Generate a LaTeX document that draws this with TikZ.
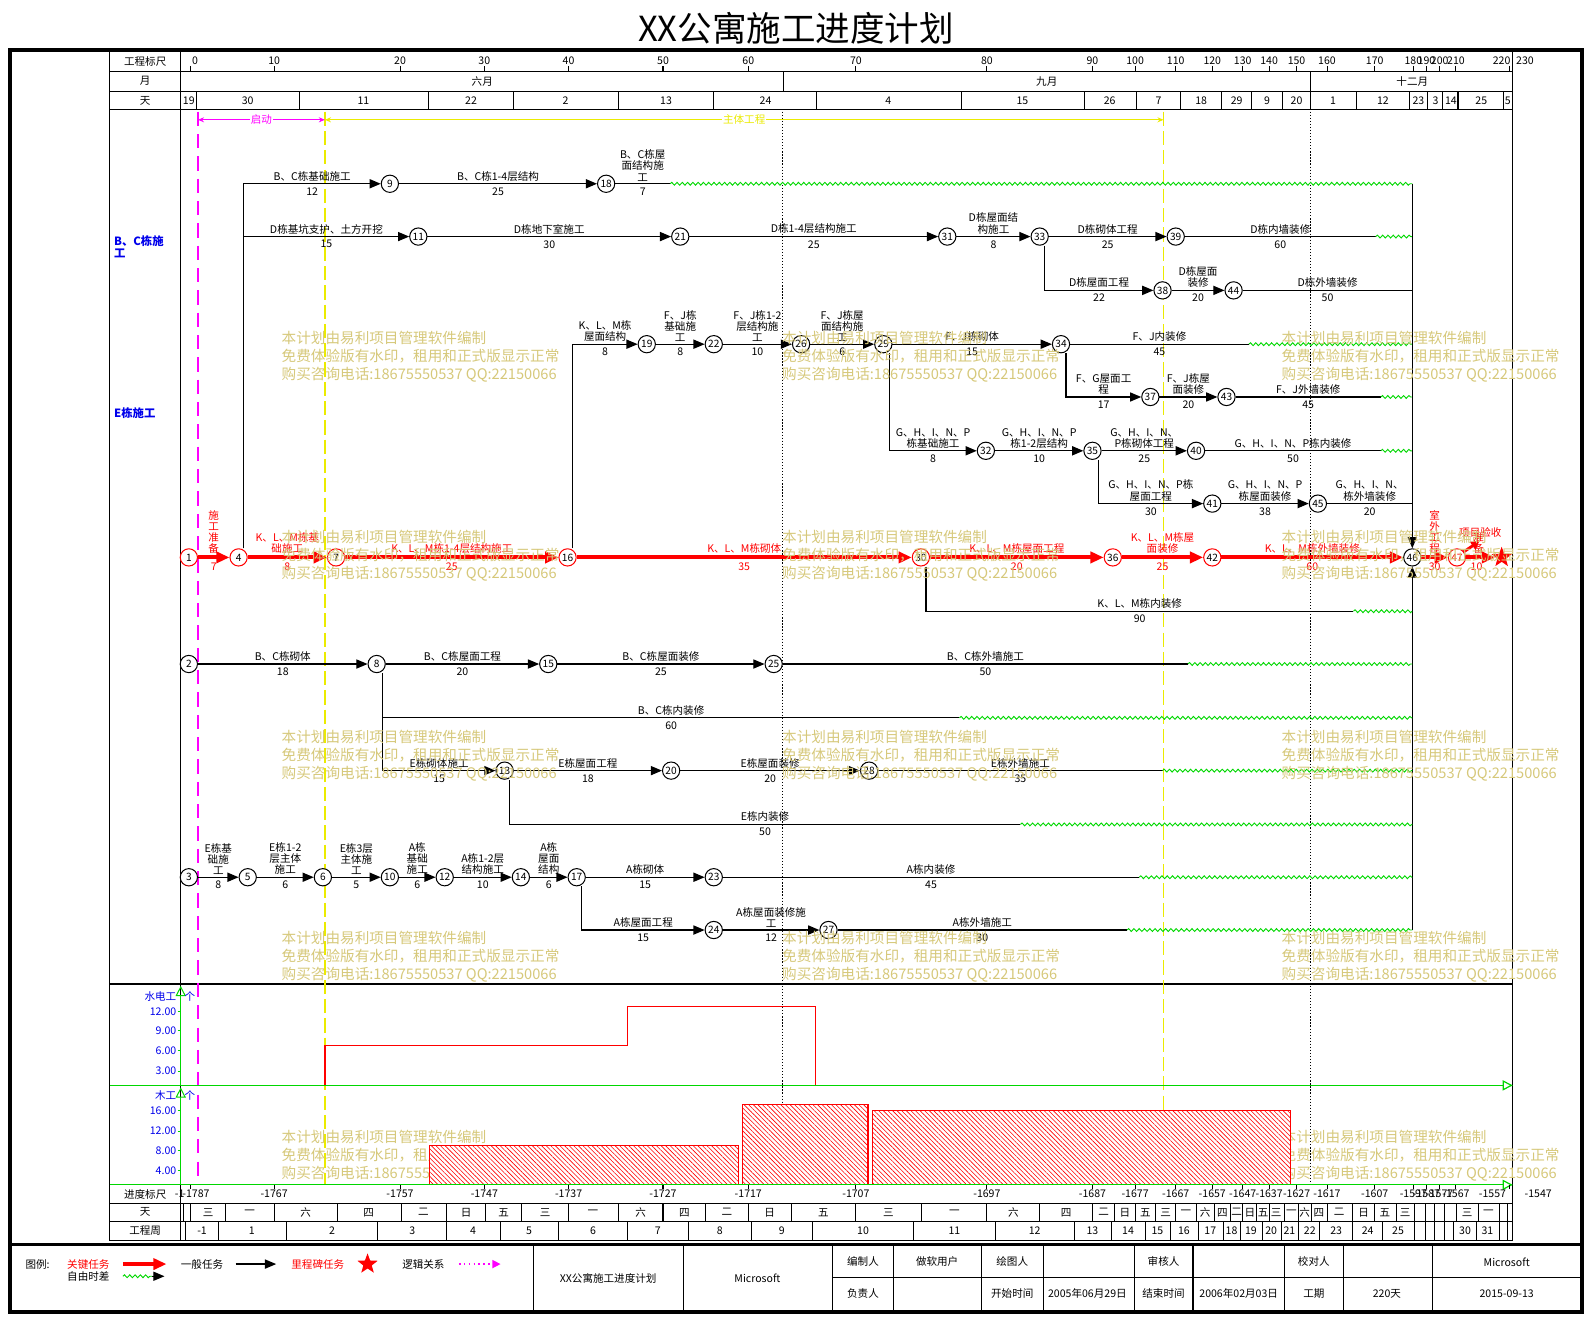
\documentclass[tikz,border=0pt]{standalone}
\usepackage{fontspec}
\setmainfont{Noto Sans CJK SC}
\usetikzlibrary{arrows.meta,decorations.pathmorphing,patterns.meta,shapes.geometric}
\definecolor{wm}{RGB}{214,200,122}
\definecolor{gr}{RGB}{0,215,0}
\definecolor{mg}{RGB}{255,0,255}
\definecolor{yl}{RGB}{235,235,0}
\definecolor{bl}{RGB}{0,0,235}
\newcommand\flab{\fontsize{5.2}{5.5}\selectfont}
\newcommand\fnum{\fontsize{5}{5.5}\selectfont}
\newcommand\fwm{\fontsize{7.2}{8.8}\selectfont}
\tikzset{
 nd/.style={circle,draw=black,line width=0.5pt,fill=white,minimum size=8.5pt,inner sep=0pt,font=\fnum},
 cn/.style={nd,draw=red},
 ln/.style={line width=0.6pt,-{Triangle[length=5.5pt,width=4.5pt]}},
 cl/.style={draw=red,line width=2pt,-{Triangle[length=6.5pt,width=5.5pt]}},
 pl/.style={line width=0.6pt},
 tl/.style={line width=0.5pt},
 wv/.style={draw=gr,line width=0.45pt,decorate,decoration={snake,amplitude=0.7pt,segment length=2.6pt}},
 la/.style={above=0.6pt,inner sep=0.4pt,font=\flab,align=center},
 lb/.style={below=1.2pt,inner sep=0.4pt,font=\flab},
 wmk/.style={anchor=north west,inner sep=0pt,text=wm,font=\fwm,align=left},
 hd/.style={inner sep=0pt,font=\flab},
 bar/.style={draw=red,line width=0.6pt,fill=white},
 hatch/.style={draw=red,line width=0.6pt,pattern={Lines[angle=-45,distance=1.6pt,line width=0.3pt]},pattern color=red},
}
\begin{document}
\begin{tikzpicture}[x=0.5pt,y=-0.5pt,font=\flab]
\useasboundingbox (0,0) rectangle (1568,1301);
\node[font=\fontsize{17}{20}\selectfont] (title) at (784,28) {XX公寓施工进度计划};
% frame and table
\draw[line width=1.8pt] (10,49) rectangle (1558,1292);
\draw[tl] (108,49) -- (108,1222) (178,49) -- (178,1222) (1490,49) -- (1490,1222);
\draw[tl] (108,70) -- (1490,70) (108,90) -- (1490,90) (108,108) -- (1490,108);
\draw[tl] (108,1185) -- (1490,1185) (108,1203) -- (1490,1203) (108,1222) -- (1490,1222);
\draw[line width=1.2pt] (108,969) -- (1490,969);
% header
\node[hd] (h1) at (143,61) {工程标尺};
\node[hd] (h2) at (143,80) {月};
\node[hd] (h3) at (143,99) {天};
\foreach \p/\t in {192/0,270/10,394/20,477/30,560/40,653/50,737/60,843/70,972/80,1076/90,1118/100,1158/110,1194/120,1224/130,1250/140,1277/150,1307/160,1354/170,1392/180,1405/190,1418/200,1434/210,1479/220,1502/230}
  \node[hd,name=ts\t] at (\p,60) {\t};
\foreach \p in {188,270,394,477,560,653,737,843,972,1076,1118,1158,1194,1224,1250,1277,1307,1354,1392,1405,1418,1434,1487}
  \draw[tl] (\p,65) -- (\p,70);
\draw[tl] (772,70) -- (772,90) (1291,70) -- (1291,90);
\node[hd] (m6) at (475,80) {六月};
\node[hd] (m9) at (1031,80) {九月};
\node[hd] (m12) at (1391,80) {十二月};
\foreach \p in {194,295,422,506,609,703,804,947,1068,1119,1163,1203,1233,1263,1291,1336,1388,1406,1421,1436,1481}
  \draw[tl] (\p,90) -- (\p,108);
\foreach \p/\t [count=\i] in {186/19,244/30,358/11,464/22,557/2,656/13,754/24,875/4,1007/15,1093/26,1141/7,1183/18,1218/29,1248/9,1277/20,1313/1,1362/12,1397/23,1414/3,1429/14,1459/25,1485/5}
  \node[hd,name=dd\i] at (\p,99) {\t};
% left labels
\node[anchor=north west,text=bl,font=\bfseries\fontsize{5.6}{6}\selectfont,align=left,inner sep=0pt] (g1) at (112,232) {B、C栋施\\工};
\node[anchor=north west,text=bl,font=\bfseries\fontsize{5.6}{6}\selectfont,inner sep=0pt] (g2) at (112,401) {E栋施工};
% guide lines
\draw[mg,line width=0.65pt,dash pattern=on 7pt off 4pt] (195,110) -- (195,1167);
\draw[yl,line width=0.6pt,dash pattern=on 7pt off 2.5pt] (320,110) -- (320,1167);
\draw[yl,line width=0.6pt,dash pattern=on 7pt off 2.5pt] (1146,110) -- (1146,1167);
\draw[line width=0.4pt,dash pattern=on 0.6pt off 0.9pt] (771,110) -- (771,1167);
\draw[line width=0.4pt,dash pattern=on 0.6pt off 0.9pt] (1291,110) -- (1291,1167);
\coordinate (s1) at (195,118); \coordinate (s2) at (320,118); \coordinate (s3) at (1146,118);
\draw[mg,line width=0.5pt,{Stealth[length=3pt,width=2.5pt]}-{Stealth[length=3pt,width=2.5pt]}] (s1) -- node[fill=white,inner sep=0.5pt,text=mg]{启动} (s2);
\draw[yl,line width=0.5pt,{Stealth[length=3pt,width=2.5pt]}-{Stealth[length=3pt,width=2.5pt]}] (s2) -- node[fill=white,inner sep=0.5pt,text=yl]{主体工程} (s3);
% nodes
\node[cn] (n1) at (186,549) {1};
\node[nd] (n2) at (186,654) {2};
\node[nd] (n3) at (186,864) {3};
\node[cn] (n4) at (235,549) {4};
\node[nd] (n5) at (244,864) {5};
\node[nd] (n6) at (318,864) {6};
\node[cn] (n7) at (331,549) {7};
\node[nd] (n8) at (371,654) {8};
\node[nd] (n9) at (384,181) {9};
\node[nd] (n10) at (384,864) {10};
\node[nd] (n11) at (412,233) {11};
\node[nd] (n12) at (438,864) {12};
\node[nd] (n13) at (497,759) {13};
\node[nd] (n14) at (513,864) {14};
\node[nd] (n15) at (540,654) {15};
\node[cn] (n16) at (559,549) {16};
\node[nd] (n17) at (568,864) {17};
\node[nd] (n18) at (597,181) {18};
\node[nd] (n19) at (637,339) {19};
\node[nd] (n20) at (661,759) {20};
\node[nd] (n21) at (670,233) {21};
\node[nd] (n22) at (703,339) {22};
\node[nd] (n23) at (703,864) {23};
\node[nd] (n24) at (703,916) {24};
\node[nd] (n25) at (762,654) {25};
\node[nd] (n26) at (789,339) {26};
\node[nd] (n27) at (816,916) {27};
\node[nd] (n28) at (856,759) {28};
\node[nd] (n29) at (870,339) {29};
\node[cn] (n30) at (907,549) {30};
\node[nd] (n31) at (933,233) {31};
\node[nd] (n32) at (971,444) {32};
\node[nd] (n33) at (1024,233) {33};
\node[nd] (n34) at (1045,339) {34};
\node[nd] (n35) at (1076,444) {35};
\node[cn] (n36) at (1096,549) {36};
\node[nd] (n37) at (1133,391) {37};
\node[nd] (n38) at (1145,286) {38};
\node[nd] (n39) at (1158,233) {39};
\node[nd] (n40) at (1178,444) {40};
\node[nd] (n41) at (1194,496) {41};
\node[cn] (n42) at (1194,549) {42};
\node[nd] (n43) at (1208,391) {43};
\node[nd] (n44) at (1215,286) {44};
\node[nd] (n45) at (1298,496) {45};
\node[nd] (n46) at (1391,549) {46};
\node[cn,text=red] (n47) at (1435,549) {47};
\node[star,star points=5,star point ratio=2.4,fill=red,minimum size=10.5pt,inner sep=0pt] (ms) at (1479,549) {};
% wave coordinates
\coordinate (w18) at (660,181); \coordinate (e18) at (1391,181);
\coordinate (w39) at (1355,233); \coordinate (e39) at (1391,233);
\coordinate (e44) at (1391,286);
\coordinate (w34) at (1230,339); \coordinate (e34) at (1391,339);
\coordinate (w43) at (1360,391); \coordinate (e43) at (1391,391);
\coordinate (w40) at (1360,444); \coordinate (e40) at (1391,444);
\coordinate (e45) at (1391,496);
\coordinate (w30) at (1333,602); \coordinate (e30) at (1391,602);
\coordinate (w25) at (1170,654); \coordinate (e25) at (1391,654);
\coordinate (w8) at (945,707); \coordinate (e8) at (1391,707);
\coordinate (w28) at (1145,759); \coordinate (e28) at (1391,759);
\coordinate (w13) at (1005,812); \coordinate (e13) at (1391,812);
\coordinate (w23) at (1122,864); \coordinate (e23) at (1391,864);
\coordinate (w27) at (1110,916); \coordinate (e27) at (1391,916);
% B C D group
\draw[ln] ([xshift=2.5pt]n4.north) |- node[la,pos=.75]{B、C栋基础施工} node[lb,pos=.75]{12} (n9);
\draw[ln] ([xshift=2.5pt]n4.north) |- node[la,pos=.75]{D栋基坑支护、土方开挖} node[lb,pos=.75]{15} (n11);
\draw[ln] (n9) -- node[la]{B、C栋1-4层结构} node[lb]{25} (n18);
\draw[pl] (n18) -- node[la]{B、C栋屋\\面结构施\\工} node[lb]{7} (w18);
\draw[wv] (w18) -- (e18);
\draw[ln] (n11) -- node[la]{D栋地下室施工} node[lb]{30} (n21);
\draw[ln] (n21) -- node[la]{D栋1-4层结构施工} node[lb]{25} (n31);
\draw[ln] (n31) -- node[la]{D栋屋面结\\构施工} node[lb]{8} (n33);
\draw[ln] (n33) -- node[la]{D栋砌体工程} node[lb]{25} (n39);
\draw[pl] (n39) -- node[la]{D栋内墙装修} node[lb]{60} (w39);
\draw[wv] (w39) -- (e39);
\draw[ln] ([xshift=2.5pt]n33.south) |- node[la,pos=.75]{D栋屋面工程} node[lb,pos=.75]{22} (n38);
\draw[ln] (n38) -- node[la]{D栋屋面\\装修} node[lb]{20} (n44);
\draw[pl] (n44) -- node[la]{D栋外墙装修} node[lb]{50} (e44);
% F J G H group
\draw[ln] ([xshift=2.5pt]n16.north) |- node[la,pos=.75]{K、L、M栋\\屋面结构} node[lb,pos=.75]{8} (n19);
\draw[ln] (n19) -- node[la]{F、J栋\\基础施\\工} node[lb]{8} (n22);
\draw[ln] (n22) -- node[la]{F、J栋1-2\\层结构施\\工} node[lb]{10} (n26);
\draw[ln] (n26) -- node[la]{F、J栋屋\\面结构施\\工} node[lb]{6} (n29);
\draw[ln] (n29) -- node[la]{F、J栋砌体} node[lb]{15} (n34);
\draw[pl] (n34) -- node[la]{F、J内装修} node[lb]{45} (w34);
\draw[wv] (w34) -- (e34);
\draw[ln] ([xshift=2.5pt]n34.south) |- node[la,pos=.75]{F、G屋面工\\程} node[lb,pos=.75]{17} (n37);
\draw[ln] (n37) -- node[la]{F、J栋屋\\面装修} node[lb]{20} (n43);
\draw[pl] (n43) -- node[la]{F、J外墙装修} node[lb]{45} (w43);
\draw[wv] (w43) -- (e43);
\draw[ln] ([xshift=3pt]n29.south) |- node[la,pos=.75]{G、H、I、N、P\\栋基础施工} node[lb,pos=.75]{8} (n32);
\draw[ln] (n32) -- node[la]{G、H、I、N、P\\栋1-2层结构} node[lb]{10} (n35);
\draw[ln] (n35) -- node[la]{G、H、I、N、\\P栋砌体工程} node[lb]{25} (n40);
\draw[pl] (n40) -- node[la]{G、H、I、N、P栋内装修} node[lb]{50} (w40);
\draw[wv] (w40) -- (e40);
\draw[ln] ([xshift=3pt]n35.south) |- node[la,pos=.75]{G、H、I、N、P栋\\屋面工程} node[lb,pos=.75]{30} (n41);
\draw[ln] (n41) -- node[la]{G、H、I、N、P\\栋屋面装修} node[lb]{38} (n45);
\draw[pl] (n45) -- node[la]{G、H、I、N、\\栋外墙装修} node[lb]{20} (e45);
% vertical into 46
\draw[ln] (e18) -- (n46);
\draw[ln] (e27) -- (n46);
% critical path
\draw[cl] (n1) -- node[la,text=red]{施\\工\\准\\备} node[lb,text=red]{7} (n4);
\draw[cl] (n4) -- node[la,text=red]{K、L、M栋基\\础施工} node[lb,text=red]{8} (n7);
\draw[cl] (n7) -- node[la,text=red]{K、L、M栋1-4层结构施工} node[lb,text=red]{25} (n16);
\draw[cl] (n16) -- node[la,text=red]{K、L、M栋砌体} node[lb,text=red]{35} (n30);
\draw[cl] (n30) -- node[la,text=red]{K、L、M栋屋面工程} node[lb,text=red]{20} (n36);
\draw[cl] (n36) -- node[la,text=red]{K、L、M栋屋\\面装修} node[lb,text=red]{25} (n42);
\draw[cl] (n42) -- node[la,text=red]{K、L、M栋外墙装修} node[lb,text=red]{60} (n46);
\draw[cl] (n46) -- node[la,text=red]{室\\外\\工\\程} node[lb,text=red]{30} (n47);
\draw[cl] (n47) -- node[la,text=red,xshift=-1pt]{准\\备} node[lb,text=red,xshift=-2pt]{10} (ms);
\node[text=red,inner sep=0pt] (pys) at (1458,524) {项目验收};
\coordinate (ra1) at (1441,544); \coordinate (ra2) at (1457,533);
\draw[red,line width=1.4pt,-{Triangle[length=4pt,width=4.5pt]}] (ra1) -- (ra2);
\draw[pl] ([xshift=2.5pt]n30.south) |- node[la,pos=.75]{K、L、M栋内装修} node[lb,pos=.75]{90} (w30);
\draw[wv] (w30) -- (e30);
% row 2
\draw[ln] (n2) -- node[la]{B、C栋砌体} node[lb]{18} (n8);
\draw[ln] (n8) -- node[la]{B、C栋屋面工程} node[lb]{20} (n15);
\draw[ln] (n15) -- node[la]{B、C栋屋面装修} node[lb]{25} (n25);
\draw[pl] (n25) -- node[la]{B、C栋外墙施工} node[lb]{50} (w25);
\draw[wv] (w25) -- (e25);
\draw[pl] ([xshift=3pt]n8.south) |- node[la,pos=.75]{B、C栋内装修} node[lb,pos=.75]{60} (w8);
\draw[wv] (w8) -- (e8);
\draw[ln] ([xshift=3pt]n8.south) |- node[la,pos=.75]{E栋砌体施工} node[lb,pos=.75]{15} (n13);
\draw[ln] (n13) -- node[la]{E栋屋面工程} node[lb]{18} (n20);
\draw[ln] (n20) -- node[la]{E栋屋面装修} node[lb]{20} (n28);
\draw[pl] (n28) -- node[la]{E栋外墙施工} node[lb]{35} (w28);
\draw[wv] (w28) -- (e28);
\draw[pl] ([xshift=2.5pt]n13.south) |- node[la,pos=.75]{E栋内装修} node[lb,pos=.75]{50} (w13);
\draw[wv] (w13) -- (e13);
% row 3
\draw[ln] (n3) -- node[la]{E栋基\\础施\\工} node[lb]{8} (n5);
\draw[ln] (n5) -- node[la]{E栋1-2\\层主体\\施工} node[lb]{6} (n6);
\draw[ln] (n6) -- node[la]{E栋3层\\主体施\\工} node[lb]{5} (n10);
\draw[ln] (n10) -- node[la]{A栋\\基础\\施工} node[lb]{6} (n12);
\draw[ln] (n12) -- node[la]{A栋1-2层\\结构施工} node[lb]{10} (n14);
\draw[ln] (n14) -- node[la]{A栋\\屋面\\结构} node[lb]{6} (n17);
\draw[ln] (n17) -- node[la]{A栋砌体} node[lb]{15} (n23);
\draw[pl] (n23) -- node[la]{A栋内装修} node[lb]{45} (w23);
\draw[wv] (w23) -- (e23);
\draw[ln] ([xshift=2.5pt]n17.south) |- node[la,pos=.75]{A栋屋面工程} node[lb,pos=.75]{15} (n24);
\draw[ln] (n24) -- node[la]{A栋屋面装修施\\工} node[lb]{12} (n27);
\draw[pl] (n27) -- node[la]{A栋外墙施工} node[lb]{30} (w27);
\draw[wv] (w27) -- (e27);
% watermarks
\foreach \x in {277,770,1262}
 \foreach \y in {326,522,719,917}
  \node[wmk,name=wm-\x-\y] at (\x,\y) {本计划由易利项目管理软件编制\\免费体验版有水印，租用和正式版显示正常\\购买咨询电话:18675550537 QQ:22150066};
\node[wmk] (wmA) at (277,1113) {本计划由易利项目管理软件编制\\免费体验版有水印，租用和正式版显示正常\\购买咨询电话:18675550537 QQ:22150066};
\node[wmk] (wmB) at (1262,1113) {本计划由易利项目管理软件编制\\免费体验版有水印，租用和正式版显示正常\\购买咨询电话:18675550537 QQ:22150066};
% resource charts
\draw[red,line width=0.6pt] (320,1069) -- (320,1030) -- (618,1030) -- (618,991) -- (803,991) -- (803,1069);
\draw[bar] (423,1128) rectangle (727,1167); \path[hatch] (423,1128) rectangle (727,1167);
\draw[bar] (731,1088) rectangle (855,1167); \path[hatch] (731,1088) rectangle (855,1167);
\draw[bar] (859,1094) rectangle (1271,1167); \path[hatch] (859,1094) rectangle (1271,1167);
\draw[gr,line width=0.5pt,-{Triangle[open,length=5pt,width=5pt]}] (178,1069) -- (178,971);
\draw[gr,line width=0.5pt,-{Triangle[open,length=5pt,width=5pt]}] (178,1167) -- (178,1071);
\draw[gr,line width=0.6pt,-{Triangle[open,length=5pt,width=5pt]}] (108,1069) -- (1490,1069);
\draw[gr,line width=0.6pt,-{Triangle[open,length=5pt,width=5pt]}] (108,1167) -- (1490,1167);
\node[text=bl,anchor=east,inner sep=0pt] (r1) at (174,981) {水电工};
\node[text=bl,inner sep=0pt] (r1u) at (187,981) {个};
\node[text=bl,anchor=east,inner sep=0pt] (r2) at (174,1079) {木工};
\node[text=bl,inner sep=0pt] (r2u) at (187,1079) {个};
\foreach \y/\t in {996/12.00,1015/9.00,1035/6.00,1055/3.00,1094/16.00,1114/12.00,1133/8.00,1153/4.00}{
  \node[text=bl,anchor=east,inner sep=0pt,name=y\y] at (174,\y) {\t};
  \draw[gr,line width=0.4pt] (175,\y) -- (178,\y);}
% bottom scale rows
\node[hd] (b1) at (143,1176) {进度标尺};
\node[hd] (b2) at (143,1194) {天};
\node[hd] (b3) at (143,1212) {工程周};
\node[hd] (pm) at (177,1176) {-1};
\foreach \p/\t [count=\i] in {193/-1787,270/-1767,394/-1757,477/-1747,560/-1737,653/-1727,737/-1717,843/-1707,972/-1697,1076/-1687,1118/-1677,1158/-1667,1194/-1657,1224/-1647,1250/-1637,1277/-1627,1307/-1617,1354/-1607,1392/-1597,1405/-1587,1418/-1577,1434/-1567,1470/-1557,1515/-1547}
  \node[hd,name=ps\i] at (\p,1176) {\t};
\foreach \p in {188,270,394,477,560,653,737,843,972,1076,1118,1158,1194,1224,1250,1277,1307,1354,1392,1405,1418,1434,1487}
  \draw[tl] (\p,1167) -- (\p,1171);
\foreach \p in {181,188,222,270,332,395,440,478,514,560,609,653,695,737,780,843,908,972,1024,1076,1098,1118,1138,1158,1178,1196,1212,1224,1238,1250,1265,1279,1292,1307,1332,1354,1375,1393,1404,1413,1423,1435,1456,1477,1485}
  \draw[tl] (\p,1185) -- (\p,1203);
\foreach \p/\t [count=\i] in {205/三,246/一,301/六,363/四,417/二,459/日,496/五,537/三,584/一,631/六,674/四,716/二,758/日,811/五,875/三,940/一,998/六,1050/四,1087/二,1108/日,1128/五,1148/三,1168/一,1187/六,1204/四,1218/二,1231/日,1244/五,1257/三,1272/一,1285/六,1299/四,1319/二,1343/日,1364/五,1384/三,1445/三,1466/一}
  \node[hd,name=wd\i] at (\p,1194) {\t};
\foreach \p in {183,215,282,372,440,493,550,618,678,740,800,900,980,1058,1095,1128,1153,1180,1205,1222,1243,1262,1279,1300,1332,1362,1393,1404,1413,1423,1432,1454,1477,1485}
  \draw[tl] (\p,1203) -- (\p,1222);
\foreach \p/\t [count=\i] in {199/-1,248/1,327/2,406/3,466/4,521/5,584/6,648/7,709/8,770/9,850/10,940/11,1019/12,1076/13,1111/14,1140/15,1166/16,1192/17,1213/18,1232/19,1252/20,1270/21,1290/22,1316/23,1347/24,1377/25,1443/30,1465/31}
  \node[hd,name=wk\i] at (\p,1212) {\t};
% legend / title block
\draw[line width=1.5pt] (10,1226) -- (1558,1226);
\foreach \x in {525,673,820,880,967,1028,1117,1175,1265,1323,1411}
  \draw[tl] (\x,1226) -- (\x,1292);
\draw[tl] (820,1258) -- (1558,1258);
\node[hd] (lg0) at (37,1245) {图例:};
\node[hd,text=red] (lg1) at (87,1245) {关键任务};
\node[hd] (lg2) at (87,1257) {自由时差};
\coordinate (la1) at (121,1245); \coordinate (la2) at (164,1245);
\draw[cl] (la1) -- (la2);
\coordinate (lw1) at (121,1257); \coordinate (lw2) at (150,1257); \coordinate (lw3) at (162,1257);
\draw[wv] (lw1) -- (lw2);
\draw[ln] (lw2) -- (lw3);
\node[hd] (lg3) at (199,1245) {一般任务};
\coordinate (lb1) at (232,1245); \coordinate (lb2) at (272,1245);
\draw[ln] (lb1) -- (lb2);
\node[hd,text=red] (lg4) at (313,1245) {里程碑任务};
\node[star,star points=5,star point ratio=2.4,fill=red,minimum size=10.5pt,inner sep=0pt] (lgs) at (362,1245) {};
\node[hd] (lg5) at (417,1245) {逻辑关系};
\coordinate (lc1) at (452,1245); \coordinate (lc2) at (493,1245);
\draw[mg,line width=0.6pt,dash pattern=on 0.8pt off 1.6pt,-{Triangle[length=4pt,width=4pt]}] (lc1) -- (lc2);
\node[hd] (tb1) at (599,1259) {XX公寓施工进度计划};
\node[hd] (tb2) at (746,1259) {Microsoft};
\node[hd] (tb3) at (850,1242) {编制人};
\node[hd] (tb4) at (923,1242) {做软用户};
\node[hd] (tb5) at (997,1242) {绘图人};
\node[hd] (tb6) at (1146,1242) {审核人};
\node[hd] (tb7) at (1294,1242) {校对人};
\node[hd] (tb8) at (1484,1243) {Microsoft};
\node[hd] (tb9) at (850,1274) {负责人};
\node[hd] (tb10) at (997,1274) {开始时间};
\node[hd] (tb11) at (1071,1274) {2005年06月29日};
\node[hd] (tb12) at (1146,1274) {结束时间};
\node[hd] (tb13) at (1220,1274) {2006年02月03日};
\node[hd] (tb14) at (1294,1274) {工期};
\node[hd] (tb15) at (1366,1274) {220天};
\node[hd] (tb16) at (1484,1274) {2015-09-13};
\end{tikzpicture}
\end{document}
